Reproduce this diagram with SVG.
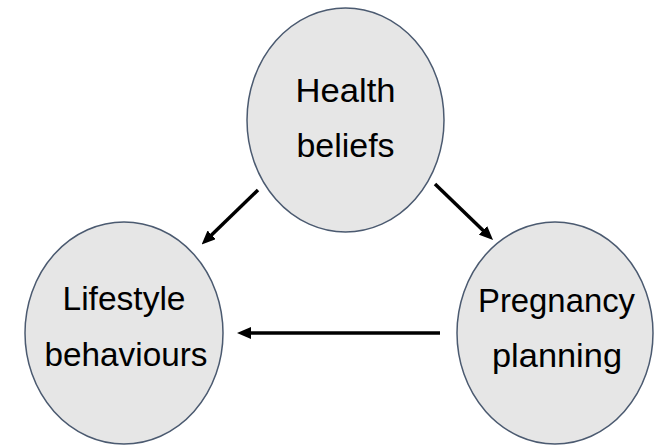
<svg xmlns="http://www.w3.org/2000/svg" width="657" height="445" viewBox="0 0 657 445">
<defs>
<style>
.node{fill:#e6e6e6;stroke:#4b5a70;stroke-width:1.5}
.lbl{font-family:"Liberation Sans",Arial,sans-serif;font-size:34px;fill:#000;text-anchor:middle}
.conn{stroke:#000;stroke-width:3.5;fill:none;marker-end:url(#ah)}
</style>
<marker id="ah" markerUnits="userSpaceOnUse" markerWidth="14" markerHeight="12" refX="1" refY="6" orient="auto" viewBox="0 0 14 12">
<path d="M0,0 L14,6 L0,12 z" fill="#000"/>
</marker>
</defs>
<rect width="657" height="445" fill="#fff"/>
<g id="connectors">
<line class="conn" x1="258" y1="190" x2="211" y2="235.5"/>
<line class="conn" x1="435" y1="184" x2="483.7" y2="231"/>
<line class="conn" x1="440" y1="333" x2="250" y2="333"/>
</g>
<g id="health-beliefs">
<ellipse class="node" cx="345.5" cy="120" rx="98.5" ry="112"/>
<text class="lbl" x="345.5" y="102" textLength="100" lengthAdjust="spacingAndGlyphs">Health</text>
<text class="lbl" x="345.5" y="157" textLength="98" lengthAdjust="spacingAndGlyphs">beliefs</text>
</g>
<g id="lifestyle-behaviours">
<ellipse class="node" cx="124" cy="333" rx="99" ry="111"/>
<text class="lbl" x="124" y="310" textLength="123" lengthAdjust="spacingAndGlyphs">Lifestyle</text>
<text class="lbl" x="126" y="366" textLength="163" lengthAdjust="spacingAndGlyphs">behaviours</text>
</g>
<g id="pregnancy-planning">
<ellipse class="node" cx="555" cy="333" rx="98" ry="111"/>
<text class="lbl" x="556.5" y="312" textLength="157" lengthAdjust="spacingAndGlyphs">Pregnancy</text>
<text class="lbl" x="557" y="367" textLength="130" lengthAdjust="spacingAndGlyphs">planning</text>
</g>
</svg>
